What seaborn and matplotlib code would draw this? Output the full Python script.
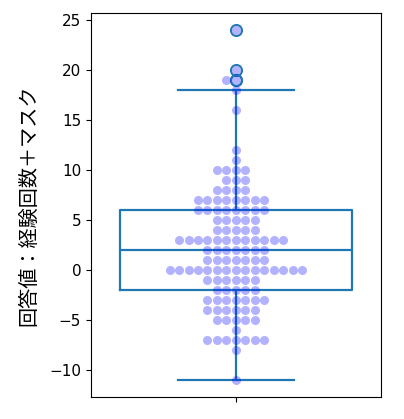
import matplotlib
matplotlib.use("Agg")
import matplotlib.pyplot as plt
import numpy as np
import pandas as pd
import seaborn as sns

answer_values = [24, 20, 19, 18, 16, 12, 11, 10, 9, 8, 7, 6, 5, 4, 3, 2, 1,
                 0, -1, -2, -3, -4, -5, -6, -7, -8, -11]
answer_counts = [1, 1, 2, 1, 1, 1, 1, 4, 3, 4, 8, 8, 5, 5, 12, 7, 7,
                 15, 6, 5, 7, 6, 5, 1, 7, 1, 1]
y_label = "回答値：経験回数＋マスク"

df = pd.DataFrame({"value": np.repeat(answer_values, answer_counts)})

fig, ax = plt.subplots(figsize=(4.04, 4.19), dpi=100)
fig.subplots_adjust(left=0.225, right=0.943, bottom=0.0525, top=0.969)

sns.boxplot(data=df, y="value", fill=False, color="C0", linewidth=1.6,
            flierprops=dict(marker="o", markerfacecolor="none",
                            markeredgecolor="C0", markersize=8,
                            markeredgewidth=1.4),
            ax=ax)
sns.swarmplot(data=df, y="value", color="blue", alpha=0.3, size=6.5, ax=ax)

ax.set_xticks([0])
ax.set_xticklabels([""])
ax.set_xlabel("")
ax.set_yticks([-10, -5, 0, 5, 10, 15, 20, 25])
ax.tick_params(axis="y", labelsize=11)
ax.set_ylabel(y_label, fontsize=14.5, labelpad=7,
              family=["Noto Sans CJK JP", "DejaVu Sans"])

fig.savefig("out.png", dpi=100)
